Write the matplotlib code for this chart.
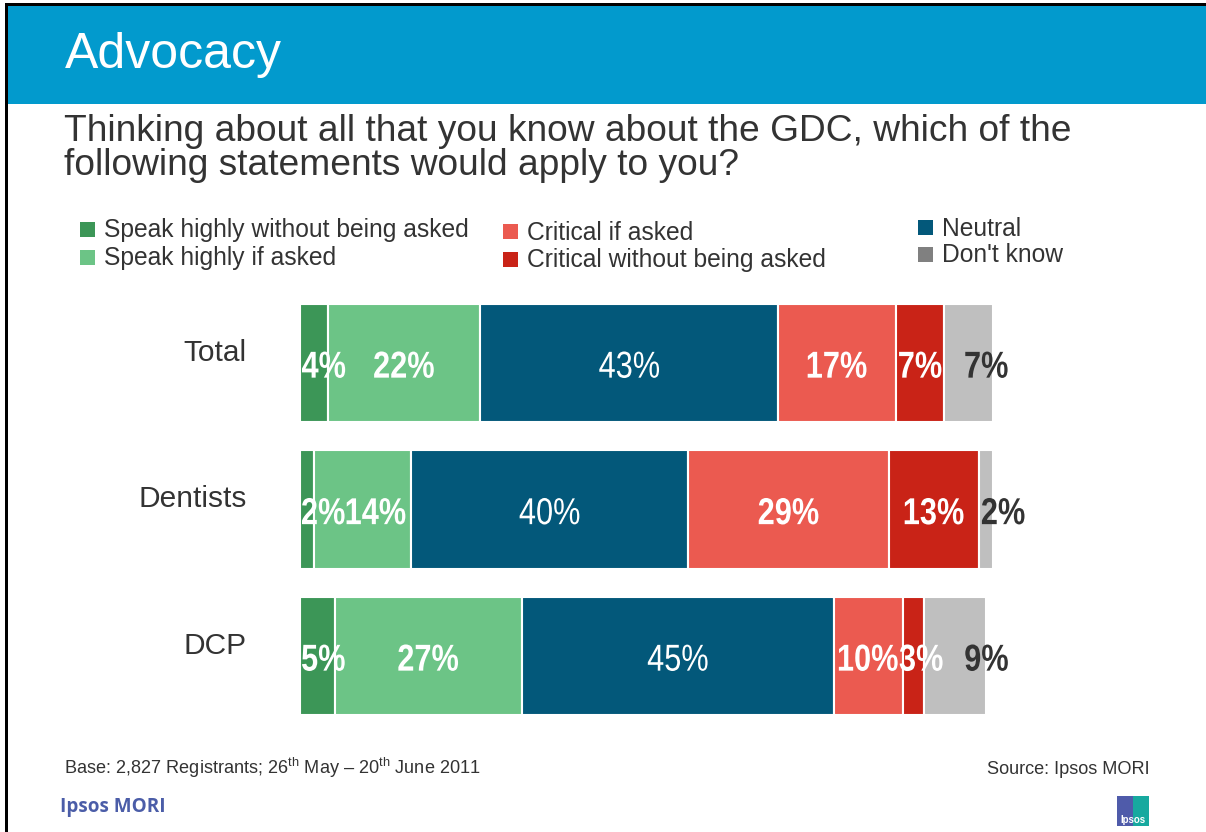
import matplotlib
matplotlib.use('Agg')
import matplotlib.pyplot as plt
from matplotlib.patches import Rectangle, PathPatch
from matplotlib.textpath import TextPath
from matplotlib.font_manager import FontProperties
from matplotlib.transforms import Affine2D, IdentityTransform

plt.rcParams['font.family'] = ['Liberation Sans', 'DejaVu Sans']
plt.rcParams['mathtext.fontset'] = 'custom'
plt.rcParams['mathtext.rm'] = 'Liberation Sans'

# survey results, % of respondents
categories = ['Total', 'Dentists', 'DCP']
series = ['Speak highly without being asked', 'Speak highly if asked', 'Neutral',
          'Critical if asked', 'Critical without being asked', "Don't know"]
speak_unprompted = [4, 2, 5]
speak_if_asked = [22, 14, 27]
neutral = [43, 40, 45]
critical_if_asked = [17, 29, 10]
critical_unprompted = [7, 13, 3]
dont_know = [7, 2, 9]

values = [speak_unprompted, speak_if_asked, neutral,
          critical_if_asked, critical_unprompted, dont_know]
colors = ['#3C9657', '#6CC486', '#03587A', '#EB5A50', '#C92317', '#BFBFBF']
legend_colors = ['#3C9657', '#6CC486', '#03587A', '#EB5A50', '#C92317', '#808080']

W, H = 1206, 832
TXT = '#333333'
LABEL_PX = 37.5     # value label size in pixels
SQUEEZE = 0.82      # horizontal squeeze -> narrow face look


def fx(px):
    return px / W


def fy(py):
    return 1 - py / H


fig = plt.figure(figsize=(W / 100, H / 100), dpi=100)

# slide frame and header band
fig.add_artist(Rectangle((fx(5), fy(832)), fx(3), 829 / H, color='black', lw=0))
fig.add_artist(Rectangle((fx(5), fy(6)), 1, 3 / H, color='black', lw=0))
fig.add_artist(Rectangle((fx(8), fy(104)), 1, 98 / H, color='#029ACD', lw=0))
fig.text(fx(65), fy(68), 'Advocacy', color='white', fontsize=36, va='baseline')

fig.text(fx(64), fy(141), 'Thinking about all that you know about the GDC, which of the',
         color=TXT, fontsize=26.7, va='baseline')
fig.text(fx(64), fy(175), 'following statements would apply to you?',
         color=TXT, fontsize=26.7, va='baseline')

# legend, three columns of two entries
legend_layout = [(0, 80, 237.5), (1, 80, 265.5), (3, 503, 239.5),
                 (4, 503, 267.5), (2, 918, 235.5), (5, 918, 262.5)]
for idx, x0, base in legend_layout:
    fig.add_artist(Rectangle((fx(x0), fy(base - 1)), 15 / W, 15 / H,
                             color=legend_colors[idx], lw=0))
    fig.text(fx(x0 + 24), fy(base), series[idx], color=TXT, fontsize=17.7, va='baseline')

# stacked bars
row_px = 146.5
top_px = 363 - row_px / 2
ax = fig.add_axes([fx(300), fy(top_px + 3 * row_px), 693 / W, 3 * row_px / H])
ax.set_xlim(0, 100)
ax.set_ylim(2.5, -0.5)
ax.axis('off')

ypos = list(range(len(categories)))
lefts = [0] * len(categories)
for vals, col in zip(values, colors):
    ax.barh(ypos, vals, left=lefts, height=0.81, color=col, edgecolor='white', linewidth=1.5)
    lefts = [l + v for l, v in zip(lefts, vals)]

for i, cat in enumerate(categories):
    ax.text(-7.7, i - 0.07, cat, ha='right', va='center', fontsize=21.5, color=TXT)


def label_path(text, bold):
    prop = FontProperties(family='Liberation Sans', weight='bold' if bold else 'normal')
    path = TextPath((0, 0), text, size=LABEL_PX, prop=prop)
    path = Affine2D().scale(SQUEEZE, 1).transform_path(path)
    ext = path.get_extents()
    return path, ext.x0, ext.x1


# value labels drawn as squeezed outlines; crowded ones get pushed right
axis_left = ax.transData.transform((0, 0))[0]
for i in range(len(categories)):
    left = 0
    prev_right = axis_left
    for s, vals in enumerate(values):
        v = vals[i]
        path, x0, x1 = label_path(f'{v}%', bold=(s != 2))
        w = x1 - x0
        if s == 5:
            xd, yd = ax.transData.transform((max(left, 95.6) + 0.4, i + 0.1))
            start = xd
            col = TXT
        else:
            xd, yd = ax.transData.transform((left + v / 2, i + 0.1))
            start = max(xd - w / 2, prev_right + 2)
            col = 'white'
        prev_right = start + w
        tr = Affine2D().translate(start - x0, yd)
        fig.add_artist(PathPatch(tr.transform_path(path), facecolor=col, lw=0,
                                 transform=IdentityTransform()))
        left += v

# footer
fig.text(fx(64), fy(774), r'Base: 2,827 Registrants; 26$^{\rm th}$ May – 20$^{\rm th}$ June 2011',
         color=TXT, fontsize=13.1)
fig.text(fx(1150), fy(774), 'Source: Ipsos MORI', color=TXT, fontsize=13.1, ha='right')
fig.text(fx(60), fy(812), 'Ipsos MORI', color='#4B5DA8', fontsize=13.6, fontweight='bold',
         family=['Open Sans', 'Liberation Sans'])

# small logo tile
fig.add_artist(Rectangle((fx(1117), fy(826)), 16 / W, 30 / H, color='#4F5BAA', lw=0))
fig.add_artist(Rectangle((fx(1133), fy(826)), 16 / W, 30 / H, color='#17A99F', lw=0))
fig.text(fx(1133), fy(823), 'Ipsos', color='white', fontsize=7, ha='center', fontweight='bold')

fig.savefig('out.png', dpi=100)
